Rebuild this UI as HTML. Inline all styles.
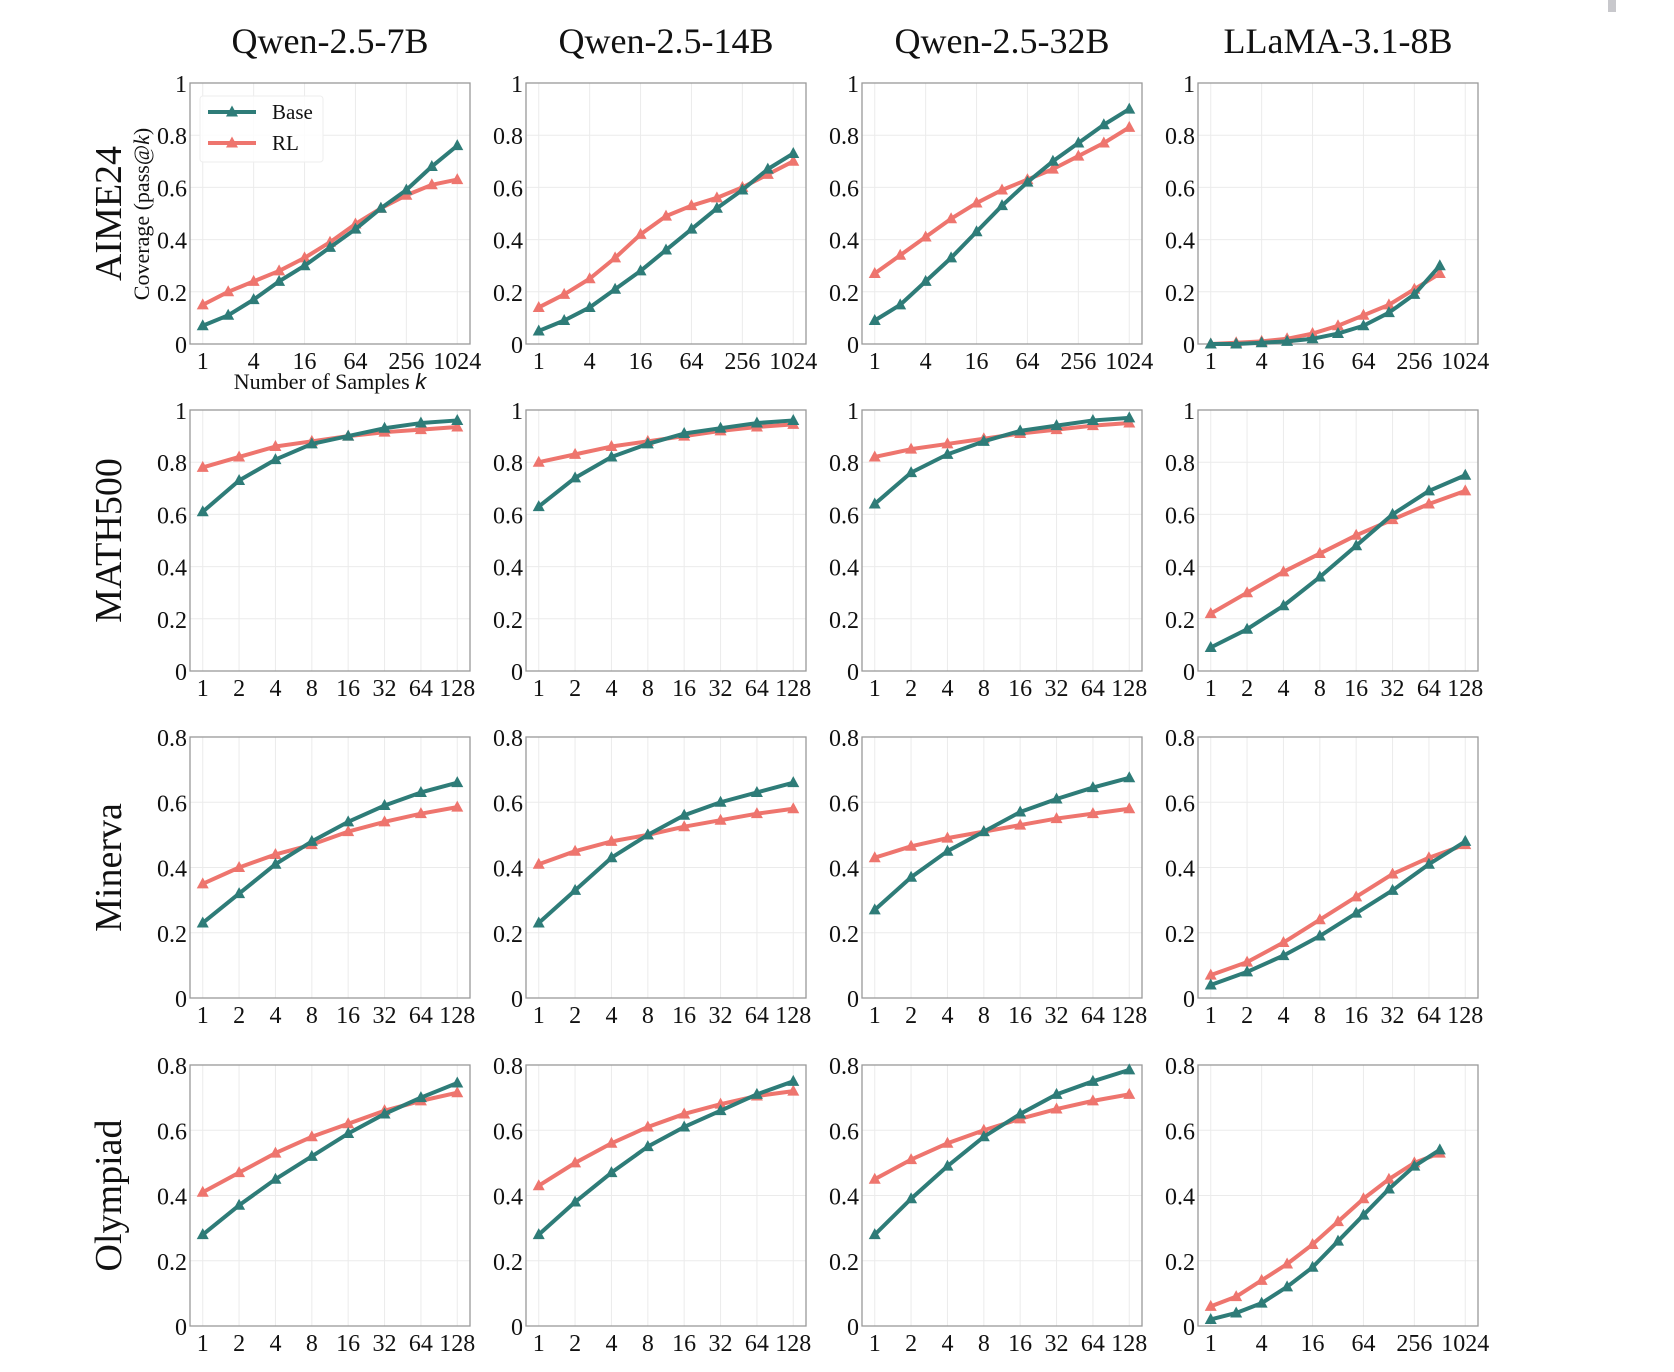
<!DOCTYPE html>
<html><head><meta charset="utf-8"><style>
body{margin:0;background:#fff}
svg{display:block;font-family:"Liberation Serif",serif}
</style></head><body>
<svg id="fig" width="1674" height="1372" viewBox="0 0 1674 1372"></svg>
<script>
// ---- data ----
const modelNames = ["Qwen-2.5-7B","Qwen-2.5-14B","Qwen-2.5-32B","LLaMA-3.1-8B"];
const datasetNames = ["AIME24","MATH500","Minerva","Olympiad"];
const kLong = [1,2,4,8,16,32,64,128,256,512,1024];
const kLong512 = [1,2,4,8,16,32,64,128,256,512];
const kShort = [1,2,4,8,16,32,64,128];
const ticksLong = [1,4,16,64,256,1024];
const ticksShort = [1,2,4,8,16,32,64,128];
const yTicks1 = [0,0.2,0.4,0.6,0.8,1];
const yTicks08 = [0,0.2,0.4,0.6,0.8];
// AIME24
const aimeBase7 = [0.07,0.11,0.17,0.24,0.30,0.37,0.44,0.52,0.59,0.68,0.76];
const aimeRL7 = [0.15,0.20,0.24,0.28,0.33,0.39,0.46,0.52,0.57,0.61,0.63];
const aimeBase14 = [0.05,0.09,0.14,0.21,0.28,0.36,0.44,0.52,0.59,0.67,0.73];
const aimeRL14 = [0.14,0.19,0.25,0.33,0.42,0.49,0.53,0.56,0.60,0.65,0.70];
const aimeBase32 = [0.09,0.15,0.24,0.33,0.43,0.53,0.62,0.70,0.77,0.84,0.90];
const aimeRL32 = [0.27,0.34,0.41,0.48,0.54,0.59,0.63,0.67,0.72,0.77,0.83];
const aimeBaseL = [0.00,0.00,0.005,0.01,0.02,0.04,0.07,0.12,0.19,0.30];
const aimeRLL = [0.00,0.005,0.01,0.02,0.04,0.07,0.11,0.15,0.21,0.27];
// MATH500
const mathBase7 = [0.61,0.73,0.81,0.87,0.90,0.93,0.95,0.96];
const mathRL7 = [0.78,0.82,0.86,0.88,0.90,0.915,0.925,0.935];
const mathBase14 = [0.63,0.74,0.82,0.87,0.91,0.93,0.95,0.96];
const mathRL14 = [0.80,0.83,0.86,0.88,0.90,0.92,0.935,0.945];
const mathBase32 = [0.64,0.76,0.83,0.88,0.92,0.94,0.96,0.97];
const mathRL32 = [0.82,0.85,0.87,0.89,0.91,0.925,0.94,0.95];
const mathBaseL = [0.09,0.16,0.25,0.36,0.48,0.60,0.69,0.75];
const mathRLL = [0.22,0.30,0.38,0.45,0.52,0.58,0.64,0.69];
// Minerva
const minBase7 = [0.23,0.32,0.41,0.48,0.54,0.59,0.63,0.66];
const minRL7 = [0.35,0.40,0.44,0.47,0.51,0.54,0.565,0.585];
const minBase14 = [0.23,0.33,0.43,0.50,0.56,0.60,0.63,0.66];
const minRL14 = [0.41,0.45,0.48,0.50,0.525,0.545,0.565,0.58];
const minBase32 = [0.27,0.37,0.45,0.51,0.57,0.61,0.645,0.675];
const minRL32 = [0.43,0.465,0.49,0.51,0.53,0.55,0.565,0.58];
const minBaseL = [0.04,0.08,0.13,0.19,0.26,0.33,0.41,0.48];
const minRLL = [0.07,0.11,0.17,0.24,0.31,0.38,0.43,0.47];
// Olympiad
const olyBase7 = [0.28,0.37,0.45,0.52,0.59,0.65,0.70,0.745];
const olyRL7 = [0.41,0.47,0.53,0.58,0.62,0.66,0.69,0.715];
const olyBase14 = [0.28,0.38,0.47,0.55,0.61,0.66,0.71,0.75];
const olyRL14 = [0.43,0.50,0.56,0.61,0.65,0.68,0.705,0.72];
const olyBase32 = [0.28,0.39,0.49,0.58,0.65,0.71,0.75,0.785];
const olyRL32 = [0.45,0.51,0.56,0.60,0.635,0.665,0.69,0.71];
const olyBaseL = [0.02,0.04,0.07,0.12,0.18,0.26,0.34,0.42,0.49,0.54];
const olyRLL = [0.06,0.09,0.14,0.19,0.25,0.32,0.39,0.45,0.50,0.53];

const panels = [
 [[kLong,aimeBase7,aimeRL7,"long",1],[kLong,aimeBase14,aimeRL14,"long",1],[kLong,aimeBase32,aimeRL32,"long",1],[kLong512,aimeBaseL,aimeRLL,"long",1]],
 [[kShort,mathBase7,mathRL7,"short",1],[kShort,mathBase14,mathRL14,"short",1],[kShort,mathBase32,mathRL32,"short",1],[kShort,mathBaseL,mathRLL,"short",1]],
 [[kShort,minBase7,minRL7,"short",0.8],[kShort,minBase14,minRL14,"short",0.8],[kShort,minBase32,minRL32,"short",0.8],[kShort,minBaseL,minRLL,"short",0.8]],
 [[kShort,olyBase7,olyRL7,"short",0.8],[kShort,olyBase14,olyRL14,"short",0.8],[kShort,olyBase32,olyRL32,"short",0.8],[kLong512,olyBaseL,olyRLL,"long",0.8]]
];

// ---- layout ----
const NS="http://www.w3.org/2000/svg";
const svg=document.getElementById('fig');
const colL=[190,526,862,1198], rowT=[83,410,737,1065], W=280, H=261;
const BASE="#2e7c78", RL="#ee756e";
function mk(tag,attrs,parent){const e=document.createElementNS(NS,tag);for(const k in attrs)e.setAttribute(k,attrs[k]);(parent||svg).appendChild(e);return e;}
function tri(g,x,y,c){return mk('polygon',{points:`${x},${y-6.5} ${x-6},${y+4.5} ${x+6},${y+4.5}`,fill:c},g);}

modelNames.forEach((m,c)=>{
  const t=mk('text',{x:colL[c]+W/2,y:53,'text-anchor':'middle','font-size':36,fill:'#111'});
  t.textContent=m;
  
  
});
datasetNames.forEach((d,r)=>{
  const cy=rowT[r]+H/2;
  const t=mk('text',{x:0,y:0,transform:`translate(121,${cy}) rotate(-90)`,'text-anchor':'middle','font-size':38,fill:'#111'});
  t.textContent=d;
  
  
});

panels.forEach((row,r)=>row.forEach((p,c)=>{
  const [ks,base,rl,type,ymax]=p;
  const L=colL[c],T=rowT[r];
  const g=mk('g',{});
  
  
  const xmin = type==="long"?-0.5:-0.35, xmax = type==="long"?10.5:7.35;
  const xs=k=>L+(Math.log2(k)-xmin)/(xmax-xmin)*W;
  const ys=v=>T+H-(v/ymax)*H;
  const xt = type==="long"?ticksLong:ticksShort;
  const yt = ymax===1?yTicks1:yTicks08;
  xt.forEach(k=>{
    const gl=mk('line',{x1:xs(k),x2:xs(k),y1:T,y2:T+H,stroke:'#ebebeb','stroke-width':1},g);
    
    
    const tl=mk('text',{x:xs(k),y:T+H+25,'text-anchor':'middle','font-size':24,fill:'#111'},g);
    tl.textContent=String(k);
    
    
  });
  yt.forEach(v=>{
    const gl=mk('line',{x1:L,x2:L+W,y1:ys(v),y2:ys(v),stroke:'#ebebeb','stroke-width':1},g);
    
    
    const tl=mk('text',{x:L-3,y:ys(v)+9,'text-anchor':'end','font-size':24,fill:'#111'},g);
    tl.textContent=(v===0?"0":v===1?"1":v.toFixed(1));
    
    
  });
  const fr=mk('rect',{x:L,y:T,width:W,height:H,fill:'none',stroke:'#999','stroke-width':1.3},g);
  
  
  [[rl,RL,'rl'],[base,BASE,'base']].forEach(([vals,col,nm])=>{
    const pts=vals.map((v,i)=>xs(ks[i])+','+ys(v)).join(' ');
    const pl=mk('polyline',{points:pts,fill:'none',stroke:col,'stroke-width':4,'stroke-linejoin':'round'},g);
    
    
    vals.forEach((v,i)=>{
      const m=tri(g,xs(ks[i]),ys(v),col);
      
      
    });
  });
}));

// legend & axis labels on first panel
const lg=mk('g',{});


mk('rect',{x:200,y:96,width:123,height:66,fill:'#fff','fill-opacity':0.85,stroke:'#eee','stroke-width':1,rx:3},lg);
[[112,BASE,'Base'],[143,RL,'RL']].forEach(([y,col,lab])=>{
  const e=mk('g',{},lg);
  
  
  mk('line',{x1:208,x2:256,y1:y,y2:y,stroke:col,'stroke-width':4},e);
  tri(e,232,y,col);
  const t=mk('text',{x:272,y:y+7,'font-size':21,fill:'#111'},e);
  t.textContent=lab;
});
const yl=mk('text',{x:0,y:0,transform:'translate(149,214) rotate(-90)','text-anchor':'middle','font-size':22,fill:'#111'});
yl.innerHTML='Coverage (pass@<tspan font-style="italic">k</tspan>)';


const xl=mk('text',{x:330,y:389,'text-anchor':'middle','font-size':22,fill:'#111'});
xl.innerHTML='Number of Samples <tspan font-family="Liberation Sans, sans-serif" font-style="italic">k</tspan>';


const mark=mk('rect',{x:1608,y:0,width:8,height:12,fill:'#c8c8cc'});


</script>
</body></html>
